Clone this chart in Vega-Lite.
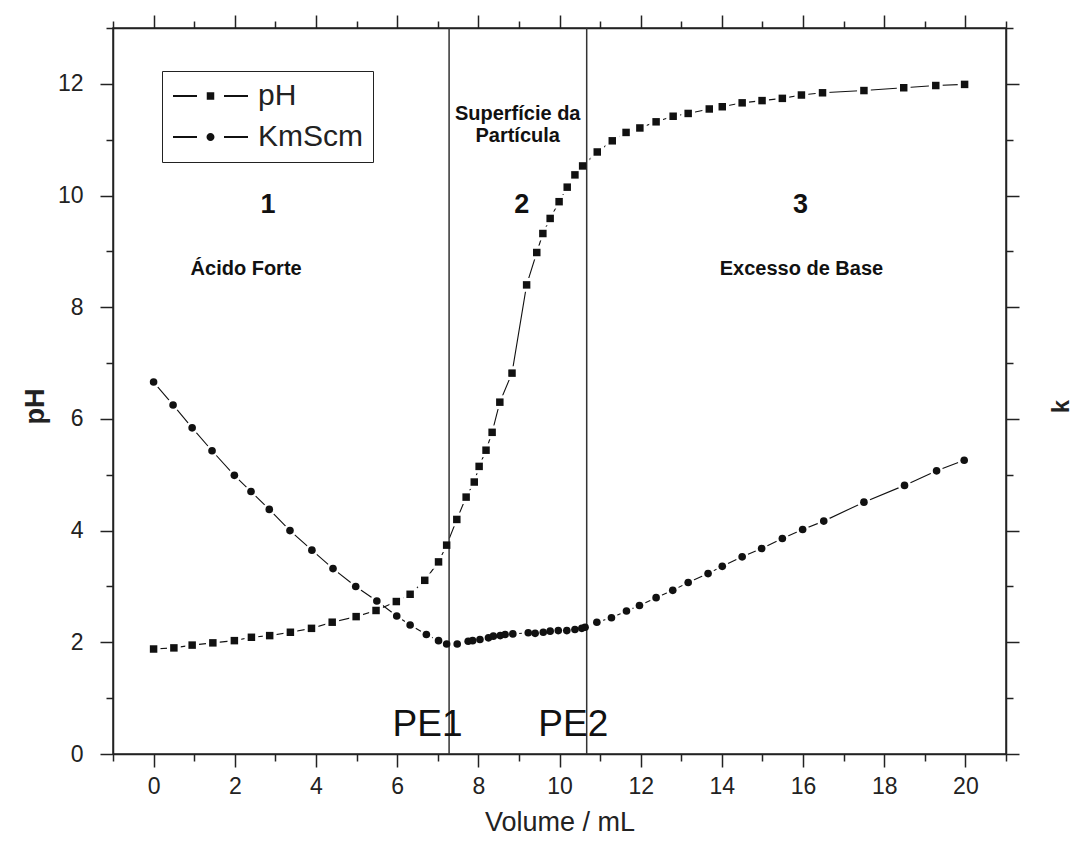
{
  "$schema": "https://vega.github.io/schema/vega-lite/v6.json",
  "width": 893,
  "height": 726,
  "autosize": "none",
  "padding": {"left": 113, "top": 28, "right": 68, "bottom": 95},
  "background": "white",
  "config": {
    "view": {"stroke": "#222", "strokeWidth": 1.5},
    "font": "Liberation Sans",
    "axis": {
      "domainColor": "#222",
      "domainWidth": 1.5,
      "tickColor": "#222",
      "tickWidth": 1.5,
      "labelFont": "Liberation Sans",
      "labelFontSize": 23,
      "labelColor": "#222",
      "titleFont": "Liberation Sans",
      "titleColor": "#222",
      "grid": false,
      "labelOverlap": false,
      "labelFlush": false
    }
  },
  "datasets": {
    "readings": [
      {"volume": 0, "reading": 1.88, "series": "pH"},
      {"volume": 0.5, "reading": 1.9, "series": "pH"},
      {"volume": 0.95, "reading": 1.95, "series": "pH"},
      {"volume": 1.46, "reading": 1.99, "series": "pH"},
      {"volume": 1.99, "reading": 2.03, "series": "pH"},
      {"volume": 2.41, "reading": 2.09, "series": "pH"},
      {"volume": 2.86, "reading": 2.12, "series": "pH"},
      {"volume": 3.37, "reading": 2.18, "series": "pH"},
      {"volume": 3.89, "reading": 2.25, "series": "pH"},
      {"volume": 4.4, "reading": 2.36, "series": "pH"},
      {"volume": 4.99, "reading": 2.46, "series": "pH"},
      {"volume": 5.48, "reading": 2.57, "series": "pH"},
      {"volume": 5.98, "reading": 2.73, "series": "pH"},
      {"volume": 6.32, "reading": 2.86, "series": "pH"},
      {"volume": 6.68, "reading": 3.11, "series": "pH"},
      {"volume": 7.02, "reading": 3.44, "series": "pH"},
      {"volume": 7.22, "reading": 3.74, "series": "pH"},
      {"volume": 7.47, "reading": 4.2, "series": "pH"},
      {"volume": 7.7, "reading": 4.6, "series": "pH"},
      {"volume": 7.9, "reading": 4.87, "series": "pH"},
      {"volume": 8.02, "reading": 5.15, "series": "pH"},
      {"volume": 8.19, "reading": 5.44, "series": "pH"},
      {"volume": 8.34, "reading": 5.76, "series": "pH"},
      {"volume": 8.53, "reading": 6.3, "series": "pH"},
      {"volume": 8.83, "reading": 6.82, "series": "pH"},
      {"volume": 9.19, "reading": 8.4, "series": "pH"},
      {"volume": 9.44, "reading": 8.98, "series": "pH"},
      {"volume": 9.59, "reading": 9.32, "series": "pH"},
      {"volume": 9.77, "reading": 9.59, "series": "pH"},
      {"volume": 9.99, "reading": 9.89, "series": "pH"},
      {"volume": 10.19, "reading": 10.15, "series": "pH"},
      {"volume": 10.38, "reading": 10.37, "series": "pH"},
      {"volume": 10.57, "reading": 10.53, "series": "pH"},
      {"volume": 10.93, "reading": 10.78, "series": "pH"},
      {"volume": 11.3, "reading": 10.98, "series": "pH"},
      {"volume": 11.64, "reading": 11.13, "series": "pH"},
      {"volume": 11.98, "reading": 11.21, "series": "pH"},
      {"volume": 12.38, "reading": 11.32, "series": "pH"},
      {"volume": 12.8, "reading": 11.42, "series": "pH"},
      {"volume": 13.17, "reading": 11.47, "series": "pH"},
      {"volume": 13.69, "reading": 11.55, "series": "pH"},
      {"volume": 14.01, "reading": 11.59, "series": "pH"},
      {"volume": 14.5, "reading": 11.66, "series": "pH"},
      {"volume": 14.99, "reading": 11.7, "series": "pH"},
      {"volume": 15.49, "reading": 11.74, "series": "pH"},
      {"volume": 15.96, "reading": 11.8, "series": "pH"},
      {"volume": 16.48, "reading": 11.84, "series": "pH"},
      {"volume": 17.5, "reading": 11.88, "series": "pH"},
      {"volume": 18.48, "reading": 11.93, "series": "pH"},
      {"volume": 19.27, "reading": 11.97, "series": "pH"},
      {"volume": 19.98, "reading": 11.99, "series": "pH"},
      {"volume": 0, "reading": 6.66, "series": "KmScm"},
      {"volume": 0.48, "reading": 6.25, "series": "KmScm"},
      {"volume": 0.95, "reading": 5.84, "series": "KmScm"},
      {"volume": 1.44, "reading": 5.43, "series": "KmScm"},
      {"volume": 1.99, "reading": 4.99, "series": "KmScm"},
      {"volume": 2.4, "reading": 4.7, "series": "KmScm"},
      {"volume": 2.85, "reading": 4.38, "series": "KmScm"},
      {"volume": 3.36, "reading": 4.0, "series": "KmScm"},
      {"volume": 3.9, "reading": 3.65, "series": "KmScm"},
      {"volume": 4.42, "reading": 3.32, "series": "KmScm"},
      {"volume": 4.98, "reading": 3.0, "series": "KmScm"},
      {"volume": 5.5, "reading": 2.74, "series": "KmScm"},
      {"volume": 5.99, "reading": 2.47, "series": "KmScm"},
      {"volume": 6.32, "reading": 2.31, "series": "KmScm"},
      {"volume": 6.72, "reading": 2.14, "series": "KmScm"},
      {"volume": 7.02, "reading": 2.03, "series": "KmScm"},
      {"volume": 7.22, "reading": 1.97, "series": "KmScm"},
      {"volume": 7.48, "reading": 1.97, "series": "KmScm"},
      {"volume": 7.75, "reading": 2.02, "series": "KmScm"},
      {"volume": 7.86, "reading": 2.03, "series": "KmScm"},
      {"volume": 8.04, "reading": 2.05, "series": "KmScm"},
      {"volume": 8.25, "reading": 2.08, "series": "KmScm"},
      {"volume": 8.37, "reading": 2.11, "series": "KmScm"},
      {"volume": 8.54, "reading": 2.12, "series": "KmScm"},
      {"volume": 8.66, "reading": 2.14, "series": "KmScm"},
      {"volume": 8.85, "reading": 2.15, "series": "KmScm"},
      {"volume": 9.23, "reading": 2.17, "series": "KmScm"},
      {"volume": 9.4, "reading": 2.16, "series": "KmScm"},
      {"volume": 9.6, "reading": 2.18, "series": "KmScm"},
      {"volume": 9.77, "reading": 2.2, "series": "KmScm"},
      {"volume": 9.97, "reading": 2.21, "series": "KmScm"},
      {"volume": 10.18, "reading": 2.21, "series": "KmScm"},
      {"volume": 10.38, "reading": 2.23, "series": "KmScm"},
      {"volume": 10.55, "reading": 2.25, "series": "KmScm"},
      {"volume": 10.63, "reading": 2.27, "series": "KmScm"},
      {"volume": 10.92, "reading": 2.36, "series": "KmScm"},
      {"volume": 11.28, "reading": 2.44, "series": "KmScm"},
      {"volume": 11.65, "reading": 2.56, "series": "KmScm"},
      {"volume": 11.97, "reading": 2.66, "series": "KmScm"},
      {"volume": 12.38, "reading": 2.8, "series": "KmScm"},
      {"volume": 12.79, "reading": 2.93, "series": "KmScm"},
      {"volume": 13.17, "reading": 3.07, "series": "KmScm"},
      {"volume": 13.66, "reading": 3.23, "series": "KmScm"},
      {"volume": 14.01, "reading": 3.36, "series": "KmScm"},
      {"volume": 14.5, "reading": 3.53, "series": "KmScm"},
      {"volume": 14.98, "reading": 3.68, "series": "KmScm"},
      {"volume": 15.49, "reading": 3.86, "series": "KmScm"},
      {"volume": 15.99, "reading": 4.02, "series": "KmScm"},
      {"volume": 16.51, "reading": 4.17, "series": "KmScm"},
      {"volume": 17.5, "reading": 4.51, "series": "KmScm"},
      {"volume": 18.5, "reading": 4.81, "series": "KmScm"},
      {"volume": 19.29, "reading": 5.07, "series": "KmScm"},
      {"volume": 19.97, "reading": 5.26, "series": "KmScm"}
    ],
    "equivalence": [
      {"point": "PE1", "volume": 7.28},
      {"point": "PE2", "volume": 10.67}
    ],
    "equivalenceLabels": [
      {"text": "PE1", "volume": 6.75, "level": 0.33},
      {"text": "PE2", "volume": 10.34, "level": 0.33}
    ],
    "regionNumbers": [
      {"text": "1", "volume": 2.82, "level": 9.68},
      {"text": "2", "volume": 9.07, "level": 9.68},
      {"text": "3", "volume": 15.94, "level": 9.68}
    ],
    "regionNames": [
      {"text": "Ácido Forte", "volume": 2.28, "level": 8.58},
      {"text": "Superfície da\nPartícula", "volume": 8.97, "level": 11.36},
      {"text": "Excesso de Base", "volume": 15.96, "level": 8.58}
    ]
  },
  "resolve": {"axis": {"x": "independent", "y": "independent"}},
  "layer": [
    {
      "data": {"name": "readings"},
      "mark": {"type": "line", "stroke": "#111", "strokeWidth": 1.1},
      "encoding": {
        "x": {
          "field": "volume",
          "type": "quantitative",
          "scale": {"domain": [-1, 21], "nice": false, "zero": false},
          "axis": {
            "orient": "bottom",
            "values": [-1, 0, 1, 2, 3, 4, 5, 6, 7, 8, 9, 10, 11, 12, 13, 14, 15, 16, 17, 18, 19, 20, 21],
            "tickSize": {"condition": {"test": "datum.value % 2 === 0", "value": 13}, "value": 7},
            "labelExpr": "datum.value % 2 === 0 ? datum.label : ''",
            "labelPadding": 8,
            "title": "Volume / mL",
            "titleFontSize": 27,
            "titleFontWeight": "normal",
            "titleY": 68,
            "titleBaseline": "middle"
          }
        },
        "y": {
          "field": "reading",
          "type": "quantitative",
          "scale": {"domain": [0, 13], "nice": false, "zero": false},
          "axis": {
            "orient": "left",
            "values": [0, 1, 2, 3, 4, 5, 6, 7, 8, 9, 10, 11, 12, 13],
            "tickSize": {"condition": {"test": "datum.value % 2 === 0", "value": 13}, "value": 7},
            "labelExpr": "datum.value % 2 === 0 ? datum.label : ''",
            "labelPadding": 17,
            "title": "pH",
            "titleFontSize": 27,
            "titleFontWeight": "bold",
            "titleX": -78,
            "titleY": 378,
            "titleBaseline": "middle"
          }
        },
        "detail": {"field": "series"}
      }
    },
    {
      "data": {"name": "readings"},
      "transform": [{"filter": "datum.series === 'pH'"}],
      "mark": {"type": "point", "shape": "square", "filled": true, "fill": "white", "opacity": 1, "size": 190},
      "encoding": {
        "x": {
          "field": "volume",
          "type": "quantitative",
          "axis": {
            "orient": "top",
            "values": [-1, 0, 1, 2, 3, 4, 5, 6, 7, 8, 9, 10, 11, 12, 13, 14, 15, 16, 17, 18, 19, 20, 21],
            "tickSize": {"condition": {"test": "datum.value % 2 === 0", "value": 13}, "value": 7},
            "labels": false,
            "title": null
          }
        },
        "y": {
          "field": "reading",
          "type": "quantitative",
          "axis": {
            "orient": "right",
            "values": [0, 1, 2, 3, 4, 5, 6, 7, 8, 9, 10, 11, 12, 13],
            "tickSize": {"condition": {"test": "datum.value % 2 === 0", "value": 13}, "value": 7},
            "labels": false,
            "title": "k",
            "titleFontSize": 24,
            "titleFontWeight": "bold",
            "titleAngle": -90,
            "titleX": 55,
            "titleY": 378,
            "titleBaseline": "middle"
          }
        }
      }
    },
    {
      "data": {"name": "readings"},
      "transform": [{"filter": "datum.series === 'KmScm'"}],
      "mark": {"type": "point", "shape": "circle", "filled": true, "fill": "white", "opacity": 1, "size": 170},
      "encoding": {
        "x": {"field": "volume", "type": "quantitative", "axis": null},
        "y": {"field": "reading", "type": "quantitative", "axis": null}
      }
    },
    {
      "data": {"name": "equivalence"},
      "mark": {"type": "rule", "stroke": "#333", "strokeWidth": 1.5},
      "encoding": {
        "x": {"field": "volume", "type": "quantitative", "axis": null}
      }
    },
    {
      "data": {"name": "readings"},
      "transform": [{"filter": "datum.series === 'pH'"}],
      "mark": {"type": "point", "shape": "square", "filled": true, "fill": "#111", "opacity": 1, "strokeWidth": 0, "size": 56},
      "encoding": {
        "x": {"field": "volume", "type": "quantitative", "axis": null},
        "y": {"field": "reading", "type": "quantitative", "axis": null}
      }
    },
    {
      "data": {"name": "readings"},
      "transform": [{"filter": "datum.series === 'KmScm'"}],
      "mark": {"type": "point", "shape": "circle", "filled": true, "fill": "#111", "opacity": 1, "strokeWidth": 0, "size": 58},
      "encoding": {
        "x": {"field": "volume", "type": "quantitative", "axis": null},
        "y": {"field": "reading", "type": "quantitative", "axis": null}
      }
    },
    {
      "data": {"name": "readings"},
      "mark": {"type": "point", "filled": true, "fill": "#111", "opacity": 0},
      "encoding": {
        "x": {"field": "volume", "type": "quantitative", "axis": null},
        "y": {"field": "reading", "type": "quantitative", "axis": null},
        "shape": {
          "field": "series",
          "type": "nominal",
          "scale": {
            "domain": ["pH", "KmScm"],
            "range": [
              "M-7.5,-0.18H-2.7V0.18H-7.5ZM2.7,-0.18H7.5V0.18H2.7ZM-0.75,-0.75H0.75V0.75H-0.75Z",
              "M-0.8,0A0.8,0.8,0,1,0,0.8,0A0.8,0.8,0,1,0,-0.8,0ZM-7.5,-0.18H-2.7V0.18H-7.5ZM2.7,-0.18H7.5V0.18H2.7Z"
            ]
          },
          "legend": {
            "title": null,
            "orient": "none",
            "legendX": 49,
            "legendY": 43,
            "direction": "vertical",
            "padding": 10,
            "rowPadding": 11,
            "labelFont": "Liberation Sans",
            "labelFontSize": 30,
            "labelColor": "#222",
            "labelOffset": 32.5,
            "symbolOffset": 23.5,
            "symbolSize": 100,
            "symbolOpacity": 1,
            "symbolFillColor": "#111",
            "symbolStrokeWidth": 0,
            "strokeColor": "#222"
          }
        }
      }
    },
    {
      "data": {"name": "equivalenceLabels"},
      "mark": {"type": "text", "fontSize": 37, "font": "Liberation Sans", "fill": "#111", "align": "center", "baseline": "alphabetic"},
      "encoding": {
        "x": {"field": "volume", "type": "quantitative", "axis": null},
        "y": {"field": "level", "type": "quantitative", "axis": null},
        "text": {"field": "text"}
      }
    },
    {
      "data": {"name": "regionNumbers"},
      "mark": {"type": "text", "fontSize": 27, "fontWeight": "bold", "font": "Liberation Sans", "fill": "#111", "align": "center", "baseline": "alphabetic"},
      "encoding": {
        "x": {"field": "volume", "type": "quantitative", "axis": null},
        "y": {"field": "level", "type": "quantitative", "axis": null},
        "text": {"field": "text"}
      }
    },
    {
      "data": {"name": "regionNames"},
      "mark": {"type": "text", "fontSize": 20, "fontWeight": "bold", "font": "Liberation Sans", "fill": "#111", "align": "center", "baseline": "alphabetic", "lineBreak": "\n", "lineHeight": 22},
      "encoding": {
        "x": {"field": "volume", "type": "quantitative", "axis": null},
        "y": {"field": "level", "type": "quantitative", "axis": null},
        "text": {"field": "text"}
      }
    }
  ]
}
